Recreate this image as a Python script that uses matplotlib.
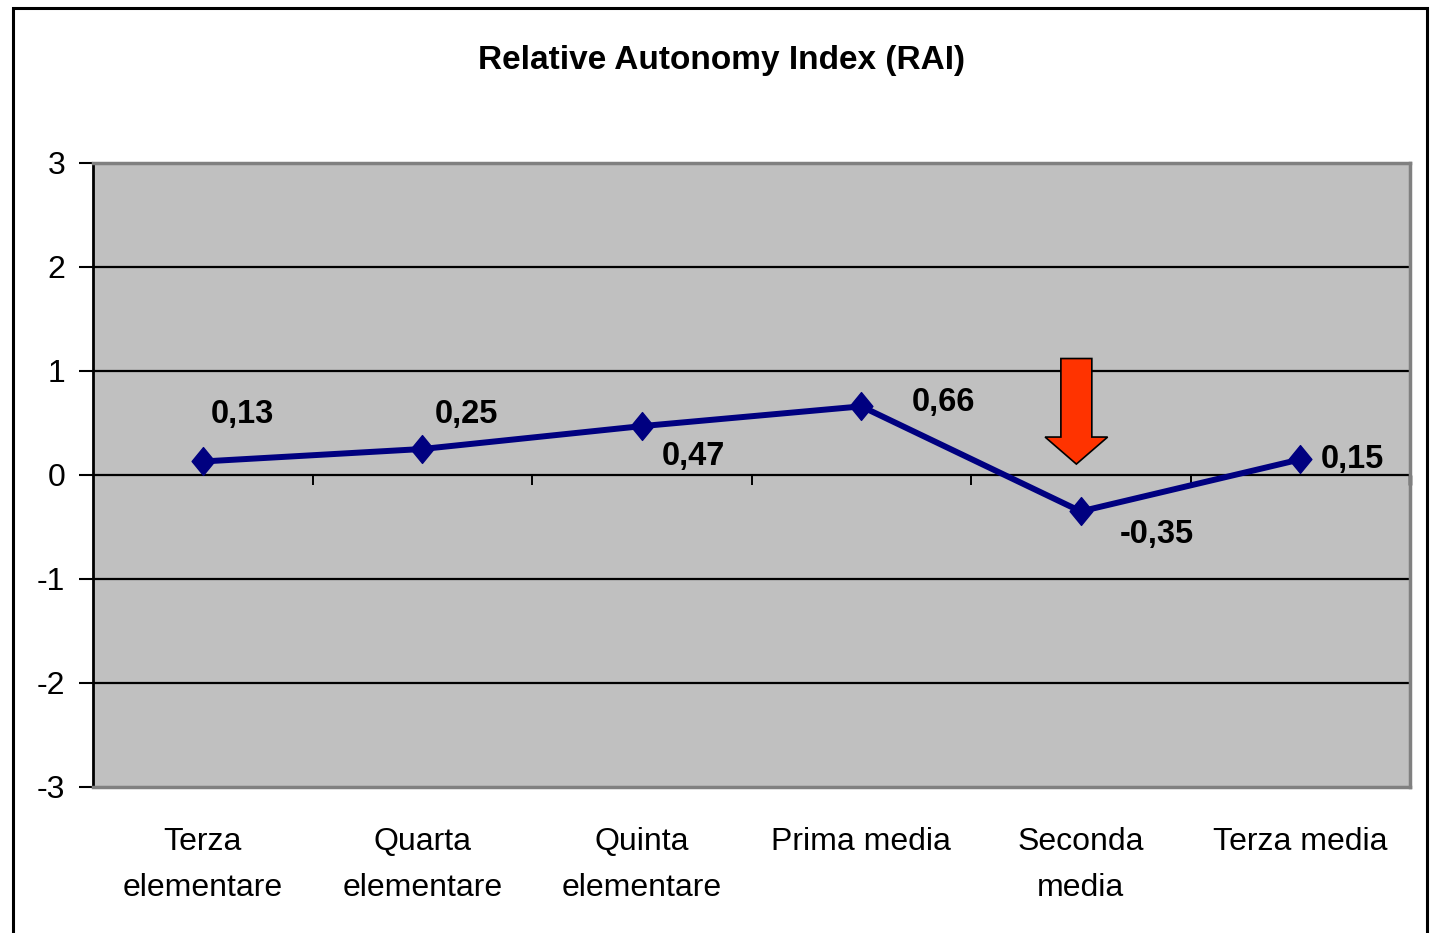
import numpy as np
import matplotlib.pyplot as plt
from matplotlib.patches import Rectangle, FancyArrow
from matplotlib.path import Path

# dati
categorie = ["Terza\nelementare", "Quarta\nelementare", "Quinta\nelementare",
             "Prima media", "Seconda\nmedia", "Terza media"]
rai = [0.13, 0.25, 0.47, 0.66, -0.35, 0.15]
etichette = ["0,13", "0,25", "0,47", "0,66", "-0,35", "0,15"]
y_ticks = [-3, -2, -1, 0, 1, 2, 3]

# posizione delle etichette (offset in pixel rispetto al punto)
offset_etichette = [(40, 47), (44, 34), (52, -30), (82, 4), (76, -23), (50, 0)]

plt.rcParams['font.family'] = ['Liberation Sans', 'DejaVu Sans']

fig = plt.figure(figsize=(14.32, 9.33), dpi=100)
ax = fig.add_axes([93 / 1432, 1 - 787 / 933, 1317 / 1432, 624 / 933])
ax.set_facecolor('#C0C0C0')

x = np.arange(len(rai))
ax.set_xlim(-0.5, len(rai) - 0.5)
ax.set_ylim(-3, 3)

# griglia e asse zero
for yv in y_ticks[1:-1]:
    ax.axhline(yv, color='black', lw=1.6, zorder=1)
ax.vlines(np.arange(0.5, len(rai)), 0, -0.095, color='black', lw=1.4, zorder=1)
ax.vlines([len(rai) - 0.5], 0, -0.095, color='black', lw=2.5, zorder=1, clip_on=False)

# serie
diamante = Path([(0, 1), (0.82, 0), (0, -1), (-0.82, 0), (0, 1)],
                [Path.MOVETO, Path.LINETO, Path.LINETO, Path.LINETO, Path.CLOSEPOLY])
ax.plot(x, rai, color='#000080', lw=4.3, marker=diamante, ms=20,
        mfc='#000080', mec='#000080', zorder=3)

for xi, v, lab, (dx, dy) in zip(x, rai, etichette, offset_etichette):
    ha = 'left' if xi == len(rai) - 1 else 'center'
    ax.annotate(lab, (xi, v), xytext=(dx if ha == 'center' else 20, dy),
                textcoords='offset pixels', ha=ha, va='center',
                fontsize=23.5, fontweight='bold', zorder=4)

# freccia rossa su Seconda media
ax.add_patch(FancyArrow(3.98, 1.12, 0, -1.015, width=0.141, head_width=0.285,
                        head_length=0.26, length_includes_head=True,
                        fc='#FF3300', ec='black', lw=1.2, zorder=4))

# assi
ax.set_yticks(y_ticks)
ax.set_yticklabels([str(t) for t in y_ticks], fontsize=23)
ax.tick_params(axis='y', direction='out', length=10, width=1.5, pad=10)
ax.set_xticks(x)
ax.set_xticklabels(categorie, fontsize=23, linespacing=1.68)
ax.tick_params(axis='x', length=0, pad=29)
for s in ['top', 'right', 'bottom']:
    ax.spines[s].set_color('#808080')
    ax.spines[s].set_linewidth(2.5)
ax.spines['left'].set_color('black')
ax.spines['left'].set_linewidth(2)

fig.text(0.504, 1 - 60 / 933, "Relative Autonomy Index (RAI)", ha='center', va='center',
         fontsize=24, fontweight='bold')

# cornice esterna
fig.patches.append(Rectangle((13 / 1432, -0.02), 1414 / 1432, (933 - 8) / 933 + 0.02,
                             transform=fig.transFigure, fill=False, ec='black', lw=2.2))

fig.savefig('out.png', dpi=100)
